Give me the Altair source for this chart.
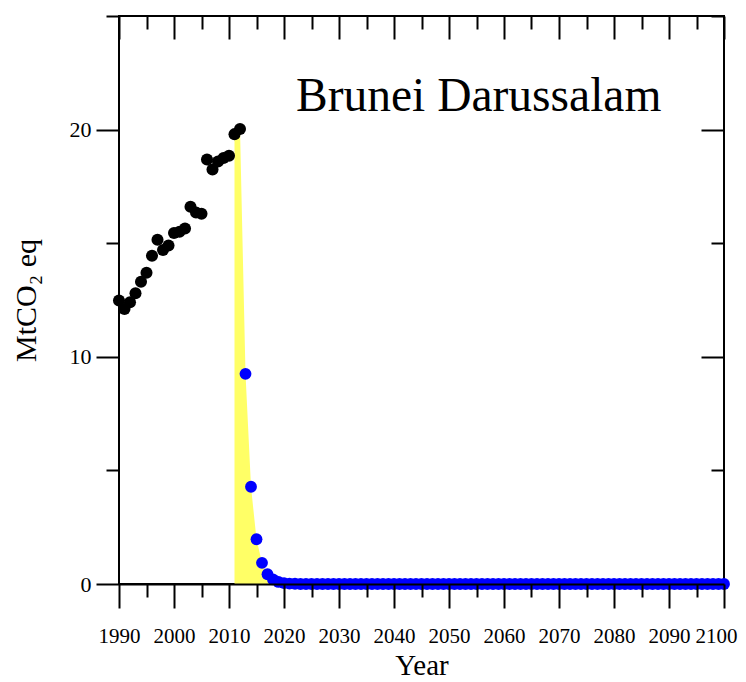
import altair as alt
import pandas as pd

# ---- data ----
hist_years = list(range(1990, 2013))
hist_values = [12.48, 12.10, 12.40, 12.80, 13.30, 13.70, 14.45, 15.15, 14.70, 14.90,
               15.45, 15.50, 15.65, 16.60, 16.35, 16.30, 18.68, 18.24, 18.60, 18.75,
               18.85, 19.80, 20.03]

proj_years = list(range(2013, 2101))
proj_values = [9.25, 4.28, 1.97, 0.93, 0.43, 0.20, 0.09, 0.04, 0.02, 0.01,
               0.0, 0.0, 0.0, 0.0, 0.0, 0.0, 0.0, 0.0, 0.0, 0.0, 0.0, 0.0, 0.0,
               0.0, 0.0, 0.0, 0.0, 0.0, 0.0, 0.0, 0.0, 0.0, 0.0, 0.0, 0.0, 0.0,
               0.0, 0.0, 0.0, 0.0, 0.0, 0.0, 0.0, 0.0, 0.0, 0.0, 0.0, 0.0, 0.0,
               0.0, 0.0, 0.0, 0.0, 0.0, 0.0, 0.0, 0.0, 0.0, 0.0, 0.0, 0.0, 0.0,
               0.0, 0.0, 0.0, 0.0, 0.0, 0.0, 0.0, 0.0, 0.0, 0.0, 0.0, 0.0, 0.0,
               0.0, 0.0, 0.0, 0.0, 0.0, 0.0, 0.0, 0.0, 0.0, 0.0, 0.0, 0.0, 0.0]

x_major = [1990, 2000, 2010, 2020, 2030, 2040, 2050, 2060, 2070, 2080, 2090, 2100]
x_minor = [1995, 2005, 2015, 2025, 2035, 2045, 2055, 2065, 2075, 2085, 2095]
y_major = [0, 10, 20]
y_minor = [5, 15, 25]

title_text = "Brunei Darussalam"
x_title = "Year"
y_title = "MtCO₂ eq"

hist = pd.DataFrame({"year": hist_years, "value": hist_values})
proj = pd.DataFrame({"year": proj_years, "value": proj_values})
gap = pd.DataFrame({"year": hist_years[-2:] + proj_years,
                    "value": hist_values[-2:] + proj_values})

W, H = 605, 568
FONT = "Liberation Serif"

xs = alt.Scale(domain=[1990, 2100], nice=False, zero=False)
ys = alt.Scale(domain=[0, 25], nice=False, zero=True)


def xaxis(values, size, labels=False, offset=0, title=None, z=0, domain=False):
    kw = dict(values=values, tickSize=size, tickWidth=2, tickColor="black",
              labels=labels, grid=False, domain=domain, offset=offset,
              orient="bottom", title=title, zindex=z)
    if domain:
        kw.update(domainColor="black", domainWidth=2)
    if labels:
        kw.update(labelFont=FONT, labelFontSize=21, labelColor="black",
                  labelPadding=17, format="d", labelOverlap=False,
                  labelFlush=False,
                  labelOffset={"condition": {"test": "datum.value == 2100",
                                             "value": -8},
                               "value": 0})
    if title:
        kw.update(titleFont=FONT, titleFontSize=29, titleFontWeight="normal",
                  titleColor="black", titlePadding=5)
    return alt.Axis(**kw)


def yaxis(values, size, labels=False, offset=0, title=None, z=0):
    kw = dict(values=values, tickSize=size, tickWidth=2, tickColor="black",
              labels=labels, grid=False, domain=False, offset=offset,
              orient="left", title=title, zindex=z)
    if labels:
        kw.update(labelFont=FONT, labelFontSize=22, labelColor="black",
                  labelPadding=5, labelOverlap=False, labelFlush=False)
    if title:
        kw.update(titleFont=FONT, titleFontSize=30, titleFontWeight="normal",
                  titleColor="black", titlePadding=28)
    return alt.Axis(**kw)


area = alt.Chart(gap).mark_area(color="#ffff66", opacity=1).encode(
    x=alt.X("year:Q", scale=xs, axis=xaxis(x_major, 23, offset=-H)),
    y=alt.Y("value:Q", scale=ys, axis=yaxis(y_major, 23, offset=-W)),
)

black = alt.Chart(hist).mark_circle(color="black", size=145, opacity=1).encode(
    x=alt.X("year:Q", scale=xs,
            axis=xaxis(x_major, 24, labels=True, title=x_title, z=1, domain=True)),
    y=alt.Y("value:Q", scale=ys, axis=yaxis(y_major, 23, labels=True, title=y_title)),
)

blue = alt.Chart(proj).mark_circle(color="#0000ff", size=140, opacity=1).encode(
    x=alt.X("year:Q", scale=xs, axis=xaxis(x_minor, 13, z=1)),
    y=alt.Y("value:Q", scale=ys, axis=yaxis(y_minor, 13)),
)

ghost = alt.Chart(hist).mark_point(opacity=0).encode(
    x=alt.X("year:Q", scale=xs, axis=xaxis(x_minor, 13, offset=-H)),
    y=alt.Y("value:Q", scale=ys, axis=yaxis(y_minor, 13, offset=-W)),
)

label = alt.Chart(pd.DataFrame({"t": [title_text]})).mark_text(
    font=FONT, fontSize=47.5, align="left", baseline="alphabetic", color="black"
).encode(x=alt.value(177), y=alt.value(95), text="t:N")

chart = alt.layer(area, black, blue, ghost, label).resolve_axis(
    x="independent", y="independent"
).properties(
    width=W, height=H,
    autosize=alt.AutoSizeParams(type="none"),
    padding={"left": 111, "top": 8, "right": 14, "bottom": 98},
).configure_view(stroke="black", strokeWidth=2)

chart.save("out.html", embed_options={"renderer": "svg", "actions": False})
